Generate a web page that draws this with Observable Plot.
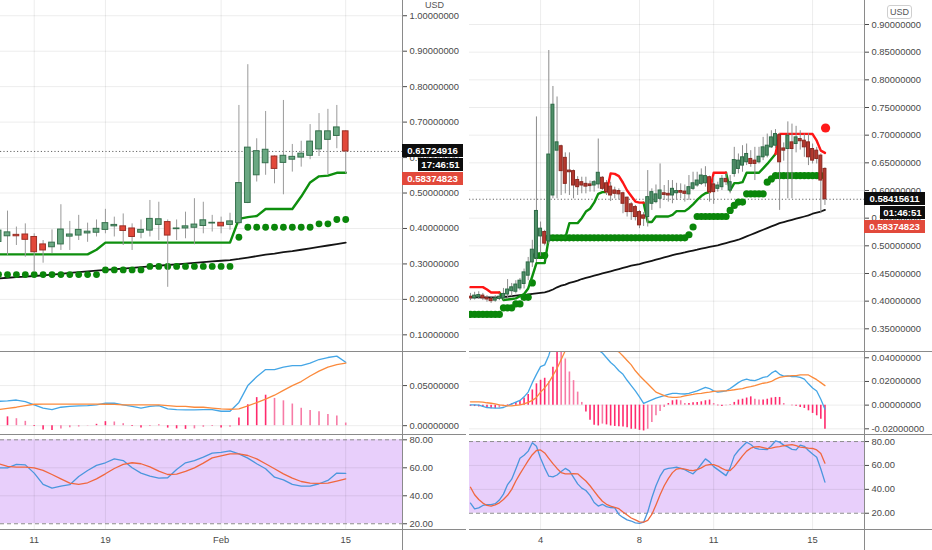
<!DOCTYPE html>
<html><head><meta charset="utf-8">
<script src="https://cdn.jsdelivr.net/npm/d3@7"></script>
<script src="https://cdn.jsdelivr.net/npm/@observablehq/plot@0.6"></script>
<style>
body{margin:0;background:#fff;}
#wrap{position:relative;width:932px;height:550px;overflow:hidden;background:#fff;font-family:"Liberation Sans",Arial,sans-serif;}
.sep{position:absolute;background:#8a8a8a;}
.tag{position:absolute;color:#fff;font:bold 9.6px "Liberation Sans",Arial,sans-serif;line-height:13px;height:13px;text-align:center;box-sizing:border-box;}
.usd{position:absolute;font:9px "Liberation Sans",Arial,sans-serif;color:#555;}
</style></head><body><div id="wrap"></div><script>
// ---------- LEFT PANEL (daily) ----------
const leftStart = "2021-01-07";
const leftTickDates = ["2021-01-11","2021-01-19","2021-02-01","2021-02-15"];
const leftTickLabels = ["11","19","Feb","15"];
const lOpen  = [.362,.378,.382,.383,.376,.355,.347,.355,.377,.380,.386,.388,.396,.406,.406,.400,.388,.394,.410,.418,.398,.400,.402,.407,.414,.416,.410,.415,.472,.550,.584,.603,.585,.594,.600,.605,.623,.650,.661,.674];
const lHigh  = [.410,.449,.404,.413,.385,.366,.396,.467,.420,.437,.415,.424,.454,.432,.441,.413,.424,.479,.474,.424,.424,.446,.484,.474,.437,.432,.443,.747,.862,.653,.730,.605,.761,.637,.646,.693,.724,.736,.747,.676];
const lLow   = [.350,.324,.352,.319,.277,.302,.329,.338,.338,.366,.361,.376,.385,.376,.352,.338,.371,.376,.366,.234,.366,.371,.354,.385,.390,.385,.395,.410,.470,.531,.550,.526,.495,.559,.573,.594,.603,.552,.625,.554];
const lClose = [.394,.389,.378,.368,.333,.338,.360,.397,.383,.396,.391,.399,.415,.410,.393,.376,.396,.427,.426,.380,.400,.406,.411,.423,.416,.406,.420,.528,.628,.618,.622,.568,.605,.602,.611,.645,.674,.674,.685,.61724916];
const lTrail = [.327,.327,.327,.327,.327,.327,.327,.327,.327,.327,.327,.340,.360,.360,.360,.360,.360,.360,.360,.360,.360,.360,.360,.360,.360,.360,.360,.427,.432,.435,.455,.455,.455,.455,.490,.530,.547,.549,.557,.557];
const lDots  = [.270,.270,.270,.270,.270,.270,.270,.270,.270,.270,.270,.270,.283,.283,.283,.283,.283,.293,.293,.293,.293,.293,.293,.293,.293,.293,.293,.3753,.4035,.4035,.4035,.4035,.4035,.4035,.4035,.4035,.413,.413,.4253,.4253];
const lMA    = [.259,.261,.263,.264,.266,.268,.270,.272,.275,.277,.279,.281,.283,.285,.287,.289,.291,.293,.295,.297,.299,.301,.303,.305,.307,.309,.311,.314,.318,.322,.326,.329,.333,.336,.340,.344,.348,.352,.356,.360];
const lMacd  = [.0304,.031,.032,.030,.026,.022,.020,.023,.024,.0246,.025,.026,.028,.028,.026,.024,.022,.024,.025,.021,.020,.0196,.0196,.020,.020,.018,.018,.029,.050,.061,.070,.070,.073,.075,.075,.078,.0825,.085,.0867,.079];
const lSignal= [.020,.0217,.023,.025,.0267,.027,.027,.027,.027,.027,.027,.027,.0267,.0265,.026,.026,.026,.026,.026,.025,.024,.024,.023,.023,.022,.021,.0205,.021,.0246,.0288,.033,.038,.044,.050,.055,.062,.068,.073,.076,.078];
const lHist  = [.010,.011,.0087,.0054,-.001,-.0054,-.006,-.004,-.0025,-.0017,-.0004,.0017,.005,.0046,.0025,-.001,-.003,-.001,.001,-.003,-.004,-.0046,-.004,-.002,-.001,-.003,-.002,.0096,.026,.035,.038,.034,.031,.027,.0217,.019,.0175,.014,.012,.0033];
const lK     = [60,60,62.4,62.1,56.2,48.1,45.5,46.9,47.9,53.8,58.1,61.7,63.6,66.4,65.2,60,56.2,54,52.6,52.9,58.8,63.6,65.2,67.6,70.5,71,72.1,70,66.9,62.9,59.3,53.3,51.4,48.1,46.9,46.9,48.6,51,56.2,56];
const lD     = [62.9,61,60.5,60.5,60,58.1,55.2,52.1,49,48.1,49.3,52.1,55.7,59.5,62.4,63.6,62.9,60.7,57.6,55.2,55.5,57.4,60,63.3,67.1,68.6,70,70,68.8,66.4,62.9,59.3,55.7,52.6,50.2,49,48.8,49,50.5,52.1];
const lMainTicks = [0.1,0.2,0.3,0.4,0.5,0.6,0.7,0.8,0.9,1.0];
const lMacdTicks = [0,0.05];
const lLast = 0.61724916, lTimer = "17:46:51";

// ---------- RIGHT PANEL (4-hour) ----------
const rightStart = "2021-02-01T04:00:00Z";
const rightTickDates = ["2021-02-04","2021-02-08","2021-02-11","2021-02-15"];
const rightTickLabels = ["4","8","11","15"];
const rOpen = [.408,.405,.407,.410,.406,.404,.401,.404,.405,.412,.418,.417,.423,.431,.446,.470,.477,.517,.525,.508,.591,.672,.680,.659,.636,.635,.619,.615,.612,.611,.609,.611,.623,.613,.607,.600,.599,.595,.587,.575,.570,.561,.555,.552,.576,.579,.585,.595,.594,.591,.595,.599,.598,.593,.603,.609,.612,.613,.624,.611,.603,.606,.621,.600,.630,.639,.645,.651,.657,.654,.651,.660,.663,.678,.681,.700,.676,.675,.687,.684,.693,.690,.687,.675,.672,.663,.639];
const rHigh = [.414,.416,.417,.414,.410,.408,.410,.413,.423,.439,.432,.437,.441,.458,.479,.510,.733,.543,.528,.853,.788,.769,.682,.668,.668,.637,.625,.624,.624,.617,.618,.693,.625,.618,.615,.606,.603,.597,.588,.578,.573,.564,.560,.636,.603,.610,.648,.609,.618,.618,.613,.612,.610,.627,.633,.633,.639,.643,.626,.624,.615,.627,.630,.627,.678,.666,.681,.684,.672,.678,.678,.696,.702,.708,.710,.703,.686,.724,.720,.716,.708,.702,.703,.684,.678,.666,.641];
const rLow  = [.401,.402,.403,.401,.398,.396,.398,.401,.402,.404,.408,.413,.419,.422,.437,.461,.470,.481,.500,.503,.585,.585,.591,.594,.591,.585,.591,.594,.594,.597,.597,.603,.600,.591,.580,.585,.583,.558,.552,.546,.545,.531,.535,.534,.564,.576,.567,.582,.579,.576,.582,.585,.579,.582,.600,.606,.609,.606,.579,.575,.597,.600,.609,.594,.624,.630,.633,.645,.642,.618,.648,.654,.659,.676,.676,.564,.653,.585,.585,.668,.673,.660,.645,.648,.648,.558,.573];
const rClose= [.405,.410,.411,.405,.403,.400,.405,.408,.413,.421,.425,.430,.437,.452,.470,.493,.563,.531,.504,.665,.755,.687,.635,.612,.633,.609,.606,.609,.607,.608,.615,.632,.603,.597,.591,.594,.593,.576,.561,.561,.552,.537,.549,.588,.597,.593,.600,.592,.591,.603,.599,.596,.594,.606,.613,.618,.627,.626,.597,.597,.609,.621,.615,.615,.655,.654,.660,.666,.648,.648,.661,.678,.681,.696,.702,.651,.672,.699,.675,.696,.689,.678,.660,.654,.657,.618,.58415611];
const rGreenLine = [null,null,null,null,null,null,null,.4157,.402,.403,.404,.405,.409,.413,.423,.445,.4687,.4687,.4687,.5145,.5145,.5145,.5145,.5145,.541,.541,.541,.55,.562,.567,.578,.594,.597,.597,null,null,null,null,null,null,null,null,.578,.543,.543,.553,.553,.553,.553,.556,.5627,.5627,.5627,.568,.575,.583,.590,.595,.597,null,null,null,.632,.600,.6133,.6133,.615,.632,.632,.632,.632,.640,.648,.657,.666,null,null,null,null,null,null,null,null,null,null,null,null];
const rRedLine = [.4253,.4253,.4253,.4253,.421,.4157,.4157,.4157,null,null,null,null,null,null,null,null,null,null,null,null,null,null,null,null,null,null,null,null,null,null,null,null,null,.597,.631,.630,.626,.614,.600,.590,.580,.578,.578,null,null,null,null,null,null,null,null,null,null,null,null,null,null,null,.597,.632,.632,.632,.632,null,null,null,null,null,null,null,null,null,null,null,.666,.7024,.7024,.7024,.7024,.7024,.7024,.7024,.7024,.702,.690,.672,.668];
const rDots = [.376,.376,.376,.376,.376,.376,.376,.376,.388,.388,.388,.395,.395,.407,.407,.433,.4825,.4825,.4825,.5145,.5145,.5145,.5145,.5145,.5145,.5145,.5145,.5145,.5145,.5145,.5145,.5145,.5145,.5145,.5145,.5145,.5145,.5145,.5145,.5145,.5145,.5145,.5145,.5145,.5145,.5145,.5145,.5145,.5145,.5145,.5145,.5145,.5145,.520,.534,.553,.553,.553,.553,.553,.553,.553,.553,.564,.573,.579,.579,.594,.594,.594,.594,.594,.615,.621,.627,.627,.627,.627,.627,.627,.627,.627,.627,.627,.627,.627,null];
const rRedDots = [null,null,null,null,null,null,null,null,null,null,null,null,null,null,null,null,null,null,null,null,null,null,null,null,null,null,null,null,null,null,null,null,null,null,null,null,null,null,null,null,null,null,null,null,null,null,null,null,null,null,null,null,null,null,null,null,null,null,null,null,null,null,null,null,null,null,null,null,null,null,null,null,null,null,null,null,null,null,null,null,null,null,null,null,null,null,.713];
const rMA = [.407,.407,.407,.407,.407,.407,.407,.407,.408,.408,.409,.410,.411,.411,.412,.413,.414,.415,.416,.418,.421,.425,.428,.430,.433,.435,.437,.440,.442,.444,.446,.448,.450,.452,.454,.456,.458,.460,.462,.464,.4655,.467,.469,.471,.473,.475,.477,.479,.481,.483,.485,.4865,.488,.490,.4915,.493,.495,.4965,.498,.4995,.501,.503,.505,.507,.509,.511,.514,.517,.520,.523,.526,.529,.532,.535,.538,.541,.543,.545,.547,.549,.551,.553,.555,.558,.560,.562,.565];
const rMacd = [.0003,.0002,0,-.001,-.002,-.0023,-.0026,-.0025,-.002,-.0005,.001,.0025,.004,.007,.011,.019,.026,.0325,.034,.042,.054,.062,.066,.067,.066,.064,.061,.058,.055,.052,.049,.0465,.044,.040,.036,.033,.029,.026,.021,.0165,.012,.007,.0015,.003,.0045,.006,.007,.008,.009,.010,.010,.0095,.0094,.010,.011,.012,.0135,.015,.014,.012,.011,.0115,.012,.014,.0165,.019,.021,.022,.021,.0207,.022,.0235,.024,.027,.029,.026,.0245,.0247,.024,.024,.0235,.022,.018,.0145,.012,.005,-.0034];
const rSignal = [.0028,.0028,.0028,.0026,.002,.0016,.001,.0003,-.0002,-.0006,-.0006,-.0002,.0003,.001,.0023,.004,.0065,.011,.0145,.019,.025,.031,.0385,.046,.050,.053,.055,.056,.056,.0555,.0545,.053,.0515,.050,.048,.0465,.045,.0415,.0377,.034,.029,.025,.0215,.018,.0145,.011,.0095,.008,.007,.0066,.0065,.007,.0078,.0085,.009,.0097,.010,.0105,.011,.0116,.0118,.012,.012,.0125,.013,.0136,.014,.015,.0156,.0165,.0175,.0185,.019,.020,.022,.0235,.024,.0245,.025,.025,.0255,.0255,.0255,.0235,.0215,.019,.0165];
const rHist = [-.001,-.0012,-.0015,-.002,-.0025,-.003,-.003,-.0025,-.0015,.0005,.0012,.0022,.0037,.006,.009,.0128,.018,.021,.0227,.020,.032,.050,.048,.039,.028,.0207,.011,.0023,-.0057,-.0128,-.017,-.0176,-.016,-.0167,-.0176,-.018,-.0182,-.0184,-.019,-.0204,-.0204,-.0213,-.0218,-.0204,-.0147,-.009,-.0054,-.002,.0014,.0037,.0043,.0037,.0014,.0014,.002,.0023,.0028,.0037,.0043,.0014,-.0006,-.0011,-.0006,.0003,.0023,.0043,.005,.006,.007,.005,.0043,.0043,.005,.006,.0065,.0065,.0014,0,-.0006,-.001,-.002,-.0028,-.0048,-.007,-.009,-.012,-.0204];
const rK = [28.5,23.6,24.5,26.5,27.3,27.3,28,31,36,44,48.5,57,66,68.5,72,79,76,66,58,51,50.4,52,55,57.5,55.5,50,44.6,41,39,35,29,26,27.5,25.5,24.8,24.5,19,16.5,14.5,13.5,12,11.6,12.5,21,33,43,51,56.5,57.5,58,58.5,57.5,56.5,54.5,53,56.5,61,65.5,63,59,56.5,54,51.5,58,68,72.5,76,79.4,77.5,74.5,73.7,73.5,73.3,76.5,80.5,79.5,77,75.5,73.5,73,77,76,72.5,69.5,66.9,57,46];
const rD = [41.8,35.5,31.5,28.5,26.5,25.9,27,28.7,31.5,35,40,47,53,58.5,64,69,72.5,73,70.5,66,61.5,57.5,54,53,52.9,53.2,53,50,47,43,38.5,34,30,27.5,26,25,23.8,21,18.5,16,14.5,12.8,12.5,14,19,27,35.5,43,49,54,57,57.5,57,56,55.7,56.5,58,60,60.7,60.7,59.5,57.5,56,55.7,59,63.5,68,72,74.4,75.5,75.8,75,74,74.5,75.3,75.8,76.5,77,77.5,76.5,75.3,75,74.5,74.2,73,70,61.9];
const rMainTicks = [0.35,0.40,0.45,0.50,0.55,0.60,0.65,0.70,0.75,0.80,0.85,0.90];
const rMacdTicks = [-0.02,0,0.02,0.04];
const rLast = 0.58415611, rTimer = "01:46:51";

const stochTicks = [20,40,60,80];
const stochBand = [20,80];
const otherPrice = 0.58374823;

// ---------- build ----------
const wrap = document.getElementById("wrap");
const FONT = '"Liberation Sans", Arial, sans-serif';
const GRID = "#000";
const DAY = 864e5, H4 = 4*3600e3;

function table(t0, step, open, high, low, close, extra) {
  return open.map((o, i) => {
    const r = {t: new Date(t0 + i*step), o, h: high[i], l: low[i], c: close[i]};
    for (const k in extra) r[k] = extra[k][i];
    return r;
  });
}
const L = table(Date.parse(leftStart + "T00:00:00Z"), DAY, lOpen, lHigh, lLow, lClose,
  {trail:lTrail, dot:lDots, ma:lMA, macd:lMacd, sig:lSignal, hist:lHist, k:lK, d:lD});
const R = table(Date.parse(rightStart), H4, rOpen, rHigh, rLow, rClose,
  {green:rGreenLine, red:rRedLine, dot:rDots, rdot:rRedDots, ma:rMA, macd:rMacd, sig:rSignal, hist:rHist, k:rK, d:rD});

function histColor(rows){
  return rows.map((r,i)=>{
    const p = i>0 ? rows[i-1].hist : r.hist;
    const strong = r.hist >= 0 ? r.hist >= p : r.hist <= p;
    return strong ? "#ff2a6d" : "#f77ba6";
  });
}

const style = {fontFamily: FONT, fontSize: "9.4px", color: "#4a4a4a", background: "transparent"};

function panel(cfg) {
  const {rows, left, width, mr, xDomain, ticksX, labelsX, mainDomain, mainTicks, macdDomain, macdTicks, stochDomain, halfW, candle, last, timer, isRight} = cfg;
  const xTicks = ticksX.map(s => new Date(s + "T00:00:00Z"));
  const labelOf = new Map(xTicks.map((d,i)=>[+d, labelsX[i]]));
  const x = {type: "utc", domain: xDomain};
  const common = {width, marginLeft: 0, marginRight: mr, marginTop: 0, style};
  const gx = Plot.gridX(xTicks, {stroke: GRID, strokeOpacity: 0.075});
  const fmt8 = d => d.toFixed(8);

  const mainMarks = [
    gx,
    Plot.gridY(mainTicks, {stroke: GRID, strokeOpacity: 0.075}),
    Plot.axisY(mainTicks, {anchor: "right", tickFormat: fmt8, tickSize: 4, tickPadding: 3, label: null}),
    Plot.ruleY([last], {stroke: "#666", strokeDasharray: "1.2,2.2", strokeWidth: 1}),
    Plot.line(rows, {x: "t", y: "ma", stroke: "#141414", strokeWidth: 1.8, clip: true}),
    Plot.dot(rows, {x: "t", y: "dot", r: isRight ? 3.6 : 3.4, fill: "#0a860a", stroke: "none", clip: true})
  ];
  if (isRight) {
    mainMarks.push(Plot.line(rows, {x: "t", y: "green", stroke: "#0e8f0e", strokeWidth: 2.4, clip: true}));
    mainMarks.push(Plot.line(rows, {x: "t", y: "red", stroke: "#ff1515", strokeWidth: 2.4, clip: true}));
  } else {
    mainMarks.push(Plot.line(rows, {x: "t", y: "trail", stroke: "#0e8f0e", strokeWidth: 2.4, clip: true}));
  }
  mainMarks.push(
    Plot.ruleX(rows, {x: "t", y1: "l", y2: "h", stroke: candle.wick, strokeWidth: 1, clip: true}),
    Plot.rect(rows, {
      x1: d => new Date(+d.t - halfW), x2: d => new Date(+d.t + halfW),
      y1: d => Math.min(d.o, d.c), y2: d => Math.max(d.o, d.c),
      fill: d => d.c >= d.o ? candle.upFill : candle.dnFill,
      stroke: d => d.c >= d.o ? candle.upStroke : candle.dnStroke,
      strokeWidth: 1, clip: true})
  );
  if (isRight) mainMarks.push(Plot.dot(rows, {x: d => new Date(+d.t + 0.6*3600e3), y: "rdot", r: 4.6, fill: "#ff1a1a", stroke: "none"}));

  const main = Plot.plot({...common, height: 351, marginBottom: 0, x: {...x, axis: null},
    y: {domain: mainDomain, axis: null}, marks: mainMarks});

  const hc = histColor(rows);
  const macd = Plot.plot({...common, height: 83, marginBottom: 0, x: {...x, axis: null},
    y: {domain: macdDomain, axis: null},
    marks: [
      gx,
      Plot.gridY(macdTicks, {stroke: GRID, strokeOpacity: 0.075}),
      Plot.axisY(macdTicks, {anchor: "right", tickFormat: fmt8, tickSize: 4, tickPadding: 3, label: null}),
      Plot.ruleX(rows, {x: "t", y1: 0, y2: "hist", stroke: (d,i) => hc[i], strokeWidth: 1.6, clip: true}),
      Plot.line(rows, {x: "t", y: "macd", stroke: "#45a6e6", strokeWidth: 1.3, clip: true}),
      Plot.line(rows, {x: "t", y: "sig", stroke: "#fb8a3c", strokeWidth: 1.3, clip: true})
    ]});

  const stoch = Plot.plot({...common, height: 116, marginBottom: 21, x: {...x, axis: null},
    y: {domain: stochDomain, axis: null},
    marks: [
      Plot.rect([stochBand], {x1: () => xDomain[0], x2: () => xDomain[1], y1: b => b[0], y2: b => b[1], fill: "#e8cffb"}),
      gx,
      Plot.gridY([40,60], {stroke: GRID, strokeOpacity: 0.075}),
      Plot.ruleY(stochBand, {stroke: "#8d8d8d", strokeDasharray: "4,3", strokeWidth: 1}),
      Plot.axisY(stochTicks, {anchor: "right", tickFormat: d => d.toFixed(2), tickSize: 4, tickPadding: 3, label: null}),
      Plot.line(rows, {x: "t", y: "k", stroke: "#4b96dd", strokeWidth: 1.3, clip: true}),
      Plot.line(rows, {x: "t", y: "d", stroke: "#f0673f", strokeWidth: 1.3, clip: true}),
      Plot.axisX(xTicks, {anchor: "bottom", tickSize: 0, tickPadding: 7, tickFormat: d => labelOf.get(+d), label: null})
    ]});

  const place = (n, top) => { n.style.position = "absolute"; n.style.left = left + "px"; n.style.top = top + "px"; wrap.appendChild(n); };
  place(main, 0); place(macd, 351); place(stoch, 434);

  // separators and axis line
  const ax = left + width - mr;
  const div = (l, t, w, h) => { const e = document.createElement("div"); e.className = "sep";
    Object.assign(e.style, {left: l + "px", top: t + "px", width: w + "px", height: h + "px"}); wrap.appendChild(e); };
  div(ax, 0, 1, 550);
  for (const yy of [351, 434, 529]) div(left, yy, width, 1);

  // price tags
  const yLast = main.scale("y").apply(last);
  const tag = (text, l, w, top, bg) => { const e = document.createElement("div"); e.className = "tag"; e.textContent = text;
    Object.assign(e.style, {left: l + "px", top: top + "px", width: w + "px", background: bg}); wrap.appendChild(e); };
  tag(last.toFixed(8), ax, 61, yLast - 6.5, "#0d0d0d");
  tag(timer, ax + 16, 45, yLast + 7.5, "#0d0d0d");
  tag(otherPrice.toFixed(8), ax, 61, yLast + 21, "#e2493b");
  return ax;
}

const candleL = {upFill: "#6aa882", upStroke: "#356f4c", dnFill: "#e2483a", dnStroke: "#9b2f26", wick: "#9a9a9a"};
const candleR = {upFill: "#4f8f68", upStroke: "#2c6a45", dnFill: "#b5392f", dnStroke: "#8a2820", wick: "#8c8c8c"};

panel({rows: L, left: 0, width: 466, mr: 64,
  xDomain: [new Date(Date.UTC(2021,0,7,5,7)), new Date(Date.UTC(2021,1,21,9,7))],
  ticksX: leftTickDates, labelsX: leftTickLabels,
  mainDomain: [0.053, 1.043], mainTicks: lMainTicks,
  macdDomain: [-0.011, 0.0925], macdTicks: lMacdTicks,
  stochDomain: [15.9, 83.8], halfW: 0.32*DAY, candle: candleL,
  last: lLast, timer: lTimer, isRight: false});

panel({rows: R, left: 469, width: 463, mr: 68,
  xDomain: [new Date(Date.UTC(2021,1,1,3,2)), new Date(Date.UTC(2021,1,17,2,23))],
  ticksX: rightTickDates, labelsX: rightTickLabels,
  mainDomain: [0.309, 0.9434], mainTicks: rMainTicks,
  macdDomain: [-0.0248, 0.0453], macdTicks: rMacdTicks,
  stochDomain: [6.4, 85.9], halfW: 1.45*3600e3, candle: candleR,
  last: rLast, timer: rTimer, isRight: true});

// currency labels
const u1 = document.createElement("div"); u1.className = "usd"; u1.textContent = "USD";
Object.assign(u1.style, {left: "425px", top: "0px"}); wrap.appendChild(u1);
const u2 = document.createElement("div"); u2.className = "usd"; u2.textContent = "USD";
Object.assign(u2.style, {left: "887px", top: "5px", border: "1px solid #cfcfcf", borderRadius: "3px", padding: "1px 2px", lineHeight: "10px"}); wrap.appendChild(u2);
</script></body></html>
